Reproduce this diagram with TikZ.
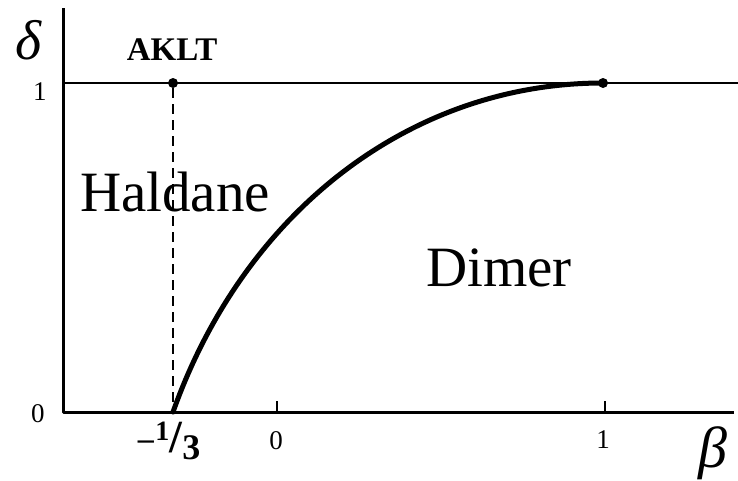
\documentclass[tikz,border=0pt]{standalone}
\usepackage{fontspec}
\setmainfont{Liberation Serif}

% sizes in pt, the picture is 738pt wide
\newcommand{\fs}[1]{\fontsize{#1}{#1}\selectfont}
\newcommand{\minusthird}{\bfseries\fs{32}\raisebox{0.08em}{--}\kern0.05em\raisebox{0.36em}{\fs{28}1}{\fs{46}/}\raisebox{-0.22em}{\fs{36}3}}

\tikzset{
  axis/.style={line width=3pt, line cap=rect},
  tick/.style={line width=2pt},
  dot/.style={circle, fill, inner sep=0pt, minimum size=10pt},
  ticklabel/.style={font=\fs{27}, inner sep=0pt},
  phase/.style={font=\fs{57}, inner sep=0pt, anchor=base},
}

\begin{document}
\begin{tikzpicture}[x=328pt, y=329pt, line join=round]
  \useasboundingbox (-0.8445,-0.2097) rectangle (1.4055,1.2523);
  \coordinate (C) at (-0.6524,0.000);
  \coordinate (T) at (-0.6524,1.2219);
  \coordinate (R) at (1.3900,0.000);
  \coordinate (L1) at (-0.6524,1.000);
  \coordinate (R1) at (1.4055,1.000);
  \coordinate (A0) at (-0.3170,0.000);
  \coordinate (X0) at (0.000,0.000);
  \coordinate (X1) at (1.000,0.000);
  \node[dot] (A) at (-0.3170,1.000) {};
  \node[dot] (D) at (0.9940,1.000) {};
  % the line delta = 1 and the AKLT line
  \draw[line width=2pt] (L1) -- (R1);
  \draw[line width=1.5pt, dash pattern=on 10pt off 6pt] (A) -- (A0);
  % transition line
  \draw[line width=5pt, line cap=round] (A0) .. controls (-0.100,0.610) and (0.408,1.000) .. (D.center);
  % axes
  \draw[axis] (T) -- (C) -- (R);
  \draw[tick] (X0) -- ++(0,0.033);
  \draw[tick] (X1) -- ++(0,0.033);
  % labels
  \node[font=\fs{56}\itshape, inner sep=0pt] (delta) at (-0.759,1.131) {δ};
  \node[font=\fs{58}\itshape, inner sep=0pt] (beta) at (1.329,-0.125) {β};
  \node[ticklabel] (one) at (-0.7226,0.973) {1};
  \node[ticklabel] (zero) at (-0.729,-0.006) {0};
  \node[ticklabel] (b0) at (-0.003,-0.088) {0};
  \node[ticklabel] (b1) at (0.994,-0.085) {1};
  \node[inner sep=0pt] (third) at (-0.329,-0.088) {\minusthird};
  \node[font=\fs{33}\bfseries, inner sep=0pt] (aklt) at (-0.320,1.103) {AKLT};
  \node[phase] (haldane) at (-0.311,0.608) {Haldane};
  \node[phase] (dimer) at (0.677,0.380) {Dimer};
\end{tikzpicture}
\end{document}
